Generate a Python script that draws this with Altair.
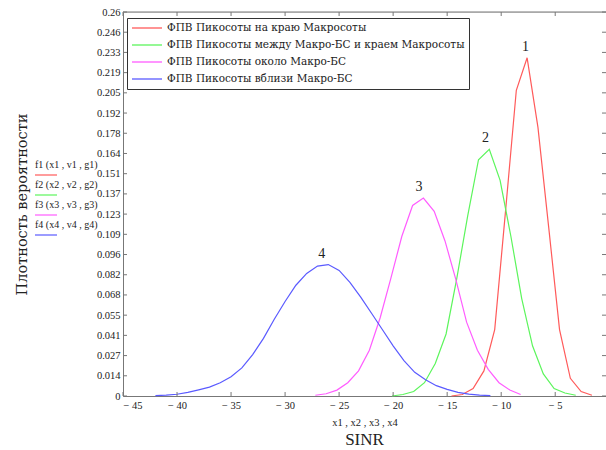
import altair as alt
import pandas as pd

# ---- data ----
series_names = [
    "ФПВ Пикосоты на краю Макросоты",
    "ФПВ Пикосоты между Макро-БС и краем Макросоты",
    "ФПВ Пикосоты около Макро-БС",
    "ФПВ Пикосоты вблизи Макро-БС",
]
series_colors = ["#ff5a5a", "#5cf55c", "#ff5cff", "#5a5aff"]
formula_labels = ["f1 (x1 , v1 , g1)", "f2 (x2 , v2 , g2)", "f3 (x3 , v3 , g3)", "f4 (x4 , v4 , g4)"]

x1 = [-14.6, -13.6, -12.6, -11.6, -10.6, -9.6, -8.6, -7.6, -6.6, -5.6, -4.6, -3.6, -2.6, -1.6]
y1 = [0.0, 0.001, 0.005, 0.017, 0.045, 0.125, 0.207, 0.229, 0.182, 0.114, 0.045, 0.012, 0.003, 0.0005]

x2 = [-20.1, -19.1, -18.1, -17.1, -16.1, -15.1, -14.1, -13.1, -12.1, -11.1, -10.1, -9.1, -8.1, -7.1, -6.1, -5.1, -4.1, -3.1]
y2 = [0.0, 0.001, 0.003, 0.009, 0.022, 0.042, 0.08, 0.122, 0.16, 0.167, 0.146, 0.108, 0.066, 0.034, 0.015, 0.005, 0.002, 0.0005]

x3 = [-27.2, -26.2, -25.2, -24.2, -23.2, -22.2, -21.2, -20.2, -19.2, -18.2, -17.2, -16.2, -15.2, -14.2, -13.2, -12.2, -11.2, -10.2, -9.2, -8.2]
y3 = [0.0005, 0.0015, 0.004, 0.009, 0.017, 0.031, 0.053, 0.08, 0.108, 0.129, 0.134, 0.125, 0.105, 0.079, 0.05, 0.031, 0.018, 0.009, 0.004, 0.001]

x4 = [-42, -41, -40, -39, -38, -37, -36, -35, -34, -33, -32, -31, -30, -29, -28, -27, -26, -25,
      -24, -23, -22, -21, -20, -19, -18, -17, -16, -15, -14, -13, -12, -11]
y4 = [0.0003, 0.0006, 0.0012, 0.0025, 0.0042, 0.006, 0.009, 0.013, 0.019, 0.028, 0.039, 0.052, 0.064,
      0.075, 0.083, 0.088, 0.089, 0.085, 0.077, 0.067, 0.056, 0.045, 0.034, 0.024, 0.016, 0.011,
      0.007, 0.0045, 0.0025, 0.0013, 0.0006, 0.0002]

peak_labels = ["1", "2", "3", "4"]
peak_x = [-7.75, -11.45, -17.6, -26.6]
peak_y = [0.229, 0.167, 0.134, 0.089]

x_ticks = [-45, -40, -35, -30, -25, -20, -15, -10, -5]
y_ticks = [0, 0.013684, 0.027368, 0.041053, 0.054737, 0.068421, 0.082105, 0.095789, 0.109474,
           0.123158, 0.136842, 0.150526, 0.164211, 0.177895, 0.191579, 0.205263, 0.218947,
           0.232632, 0.246316, 0.26]

x_domain = [-45, -0.3]
y_domain = [0, 0.26]

# ---- layout ----
W, H = 483, 384
SERIF = "Liberation Serif"
CYR = "DejaVu Serif"
TXT = "#222222"
AX = "#777777"

rows = []
for name, xs, ys in zip(series_names, [x1, x2, x3, x4], [y1, y2, y3, y4]):
    for a, b in zip(xs, ys):
        rows.append({"series": name, "x": a, "y": b})
df = pd.DataFrame(rows)

xscale = alt.Scale(domain=x_domain, nice=False, zero=False)
yscale = alt.Scale(domain=y_domain, nice=False, zero=False)

x_axis = alt.Axis(
    values=x_ticks, ticks=False, grid=False, domainColor=AX, domainWidth=1,
    labelFont=SERIF, labelFontSize=10.5, labelColor=TXT, labelPadding=4, labelOverlap=False,
    labelExpr="datum.value < 0 ? '− ' + abs(datum.value) : datum.label",
    title="x1 , x2 , x3 , x4", titleFont=SERIF, titleFontSize=10.5, titleFontWeight="normal",
    titleColor=TXT, titleY=26, titleBaseline="middle",
)
y_axis = alt.Axis(
    values=y_ticks, ticks=False, grid=False, domainColor=AX, domainWidth=1,
    labelFont=SERIF, labelFontSize=10.5, labelColor=TXT, labelPadding=3,
    labelOverlap=False, labelFlush=False, labelBound=False,
    format=".3~f",
    title="Плотность вероятности", titleFont=CYR, titleFontSize=14.5, titleFontWeight="normal",
    titleColor=TXT, titleX=-97, titleBaseline="alphabetic",
)

X = lambda f: alt.X(f, scale=xscale, axis=x_axis)
Y = lambda f: alt.Y(f, scale=yscale, axis=y_axis)

lines = alt.Chart(df).mark_line(strokeWidth=1.2).encode(
    x=X("x:Q"),
    y=Y("y:Q"),
    color=alt.Color(
        "series:N",
        scale=alt.Scale(domain=series_names, range=series_colors),
        legend=alt.Legend(
            title=None, orient="none", legendX=4, legendY=6,
            symbolType="M-1,0L5,0", symbolSize=100, symbolStrokeWidth=1.3,
            labelFont=CYR, labelFontSize=10.5, labelColor=TXT, labelOffset=24,
            labelLimit=400, padding=4, rowPadding=5,
            strokeColor="#333333", fillColor="white",
        ),
    ),
)

ann = alt.Chart(pd.DataFrame({"t": peak_labels, "x": peak_x, "y": peak_y})).mark_text(
    font=SERIF, fontSize=14, color=TXT, dy=-11, baseline="middle"
).encode(x=X("x:Q"), y=Y("y:Q"), text="t:N")

xt = pd.DataFrame({"x": x_ticks})
yt = pd.DataFrame({"y": y_ticks})
tick_bottom = alt.Chart(xt).mark_rule(color=AX).encode(
    x=X("x:Q"), y=alt.value(H - 4), y2=alt.value(H))
tick_top = alt.Chart(xt).mark_rule(color=AX).encode(
    x=X("x:Q"), y=alt.value(0), y2=alt.value(4))
tick_left = alt.Chart(yt).mark_rule(color=AX).encode(
    y=Y("y:Q"), x=alt.value(0), x2=alt.value(4))
tick_right = alt.Chart(yt).mark_rule(color=AX).encode(
    y=Y("y:Q"), x=alt.value(W - 4), x2=alt.value(W))
top_line = alt.Chart(pd.DataFrame({"k": [0]})).mark_rule(color=AX).encode(
    x=alt.value(0), x2=alt.value(W), y=alt.value(0))

sinr = alt.Chart(pd.DataFrame({"t": ["SINR"]})).mark_text(
    font=SERIF, fontSize=17, color=TXT, baseline="middle"
).encode(x=alt.value(W / 2), y=alt.value(H + 44), text="t:N")

side = []
for i, (lab, col) in enumerate(zip(formula_labels, series_colors)):
    side.append(alt.Chart(pd.DataFrame({"t": [lab]})).mark_text(
        font=SERIF, fontSize=10, color=TXT, align="left", baseline="middle"
    ).encode(x=alt.value(-88), y=alt.value(153 + 20 * i), text="t:N"))
    side.append(alt.Chart(pd.DataFrame({"k": [i]})).mark_rule(color=col, strokeWidth=1.2).encode(
        x=alt.value(-88), x2=alt.value(-66), y=alt.value(163 + 20 * i)))

chart = alt.layer(
    lines, top_line, tick_bottom, tick_top, tick_left, tick_right, ann, sinr, *side
).properties(
    width=W, height=H,
    autosize=alt.AutoSizeParams(type="none"),
    padding={"left": 123, "top": 12, "right": 0, "bottom": 54},
).configure_view(stroke=None).configure_axis(labelOverlap=False).configure(background="white")

chart.save("out.html", embed_options={"renderer": "svg", "actions": False})
